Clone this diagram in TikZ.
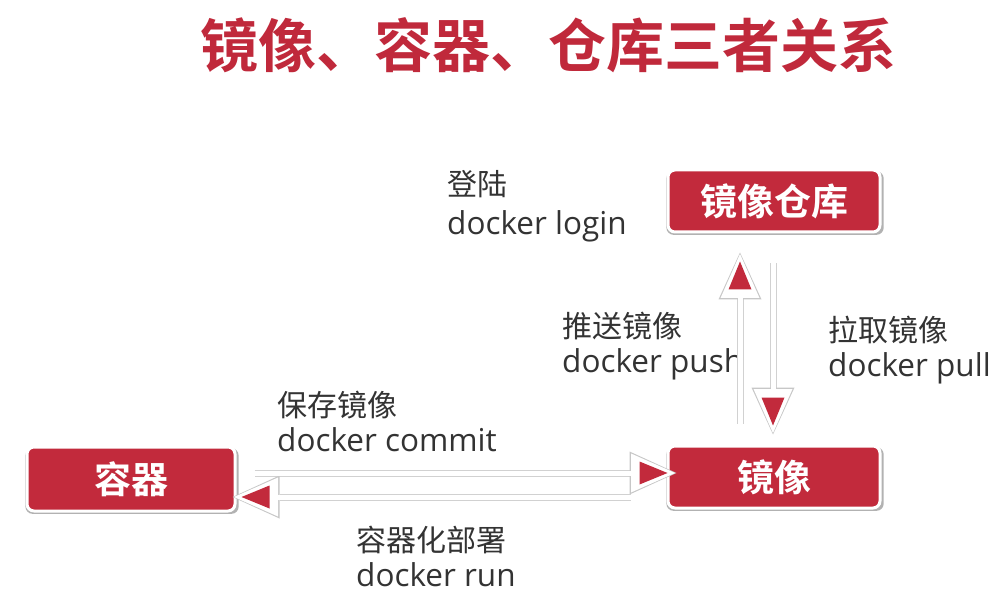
\documentclass[tikz,border=0pt]{standalone}
\usepackage{fontspec}
\usetikzlibrary{arrows.meta,shadows}
\newfontfamily\cjk{Noto Sans CJK SC}
\newfontfamily\cjkb{Noto Sans CJK SC Bold}
\newfontfamily\latin{Open Sans}
\definecolor{tred}{HTML}{C0293B}
\definecolor{bred}{HTML}{C22A3C}
\definecolor{txt}{HTML}{333333}
\tikzset{
  redbox/.style={rectangle, rounded corners=7pt, fill=bred, draw=white, line width=3pt,
    minimum width=212pt, minimum height=62pt, inner sep=0pt, text=white,
    font=\cjkb\fontsize{37pt}{40pt}\selectfont,
    drop shadow={shadow xshift=1pt, shadow yshift=-2pt, shadow scale=1.025, opacity=0.3, fill=black}},
  lbl/.style={anchor=west, align=left, text=txt, inner sep=0pt,
    font=\fontsize{30pt}{35pt}\selectfont},
  agray/.style={draw=black!18, line width=7pt,
    -{Triangle[length=47pt,width=43pt,line width=0pt,color=black!22]}},
  awhite/.style={draw=white, line width=5pt,
    -{Triangle[length=44pt,width=39pt,line width=0pt,color=white,sep=1.5pt]}},
  ared/.style={draw=white, line width=1pt,
    -{Triangle[length=28pt,width=23pt,line width=0pt,color=bred,sep=9pt]}},
}
\newcommand\lat[1]{{\latin\fontsize{31.5pt}{35pt}\selectfont #1}}
\begin{document}
\begin{tikzpicture}[x=1pt,y=-1pt]
\useasboundingbox (0,0) rectangle (995,609);
\fill[white] (0,0) rectangle (995,609);
\node[text=tred, font=\cjkb\fontsize{58pt}{62pt}\selectfont, inner sep=0pt] (title) at (548,45) {镜像、容器、仓库三者关系};
\node[redbox] (repo) at (774,201) {镜像仓库};
\node[redbox] (img) at (774,477) {镜像};
\node[redbox, minimum width=208pt, minimum height=64pt] (ctn) at (131,479) {容器};
\node[lbl, font=\fontsize{30pt}{39pt}\selectfont] (login) at (447,206) {{\cjk 登陆}\\\lat{docker login}};
\node[lbl] (push) at (562,346) {{\cjk 推送镜像}\\\lat{docker push}};
\node[lbl] (pull) at (828,350) {{\cjk 拉取镜像}\\\lat{docker pull}};
\node[lbl] (commit) at (277,421) {{\cjk 保存镜像}\\\lat{docker commit}};
\node[lbl] (run) at (356,556) {{\cjk 容器化部署}\\\lat{docker run}};
\foreach \s in {agray,awhite,ared}{
  % push (up)
  \draw[\s, shorten <=21pt, shorten >=19pt] ([xshift=-34pt]img.north) -- ([xshift=-34pt]repo.south);
  % pull (down)
  \draw[\s, shorten <=30pt, shorten >=10pt] ([xshift=-1pt]repo.south) -- ([xshift=-1pt]img.north);
  % commit (right)
  \draw[\s, shorten <=18pt, shorten >=-10pt] ([yshift=6pt]ctn.east) -- ([yshift=4pt]img.west);
  % run (left)
  \draw[\s, shorten <=36pt, shorten >=-4pt] ([yshift=-20pt]img.west) -- ([yshift=-18pt]ctn.east);
}
\end{tikzpicture}
\end{document}
